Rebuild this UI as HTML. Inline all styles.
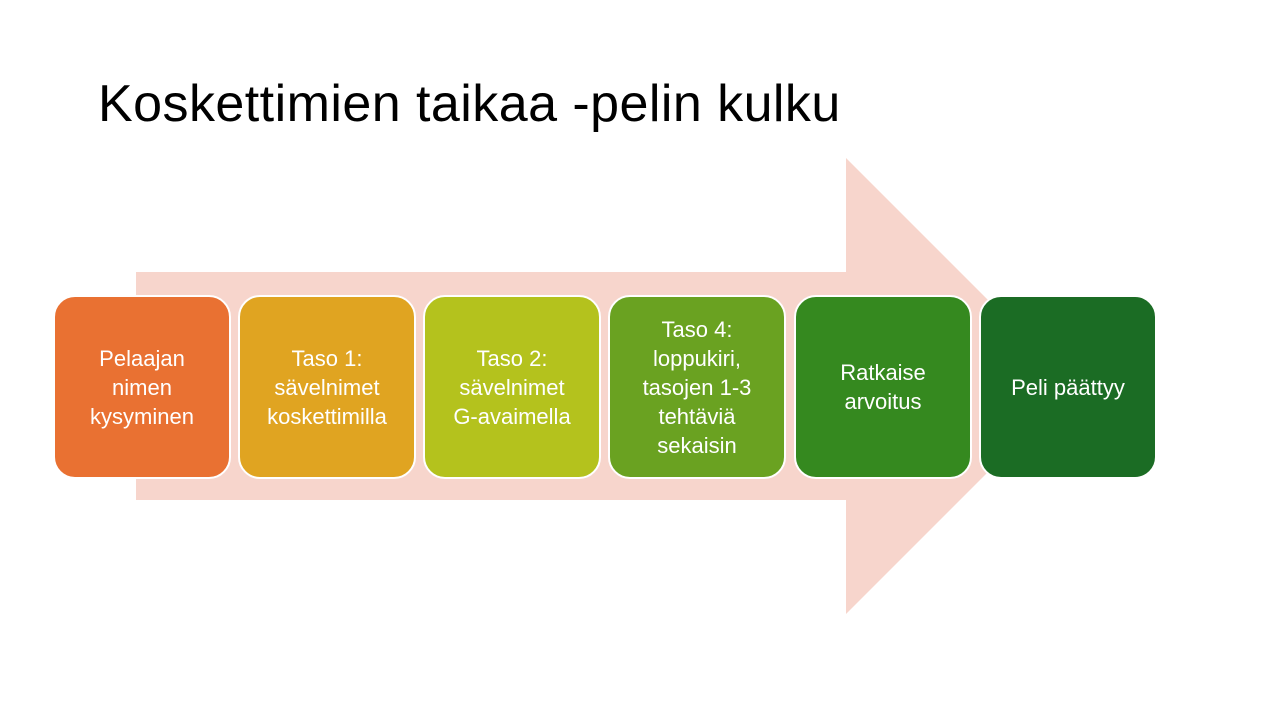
<!DOCTYPE html>
<html><head><meta charset="utf-8"><style>
body{margin:0;width:1280px;height:720px;background:#fff;position:relative;overflow:hidden;font-family:"Liberation Sans",sans-serif}
h1{position:absolute;left:98px;top:74px;margin:0;font-weight:normal;font-size:52px;color:#000;letter-spacing:0.45px}
.b{position:absolute;top:295px;width:174px;height:180px;border:2px solid #fff;border-radius:22px;box-sizing:content-box;display:flex;align-items:center;justify-content:center;text-align:center;color:#fff;font-size:22px;line-height:29px}
</style></head><body>
<h1>Koskettimien taikaa -pelin kulku</h1>
<svg width="1280" height="720" style="position:absolute;left:0;top:0">
<polygon points="136,272 846,272 846,158 1074,386 846,614 846,500 136,500" fill="#F7D5CC"/>
</svg>
<div class="b" style="left:53px;background:#E97132">Pelaajan<br>nimen<br>kysyminen</div>
<div class="b" style="left:238px;background:#E0A421">Taso 1:<br>sävelnimet<br>koskettimilla</div>
<div class="b" style="left:423px;background:#B4C21D">Taso 2:<br>sävelnimet<br>G-avaimella</div>
<div class="b" style="left:608px;background:#6AA221">Taso 4:<br>loppukiri,<br>tasojen 1-3<br>tehtäviä<br>sekaisin</div>
<div class="b" style="left:794px;background:#35891F">Ratkaise<br>arvoitus</div>
<div class="b" style="left:979px;background:#1B6C24">Peli päättyy</div>
</body></html>
